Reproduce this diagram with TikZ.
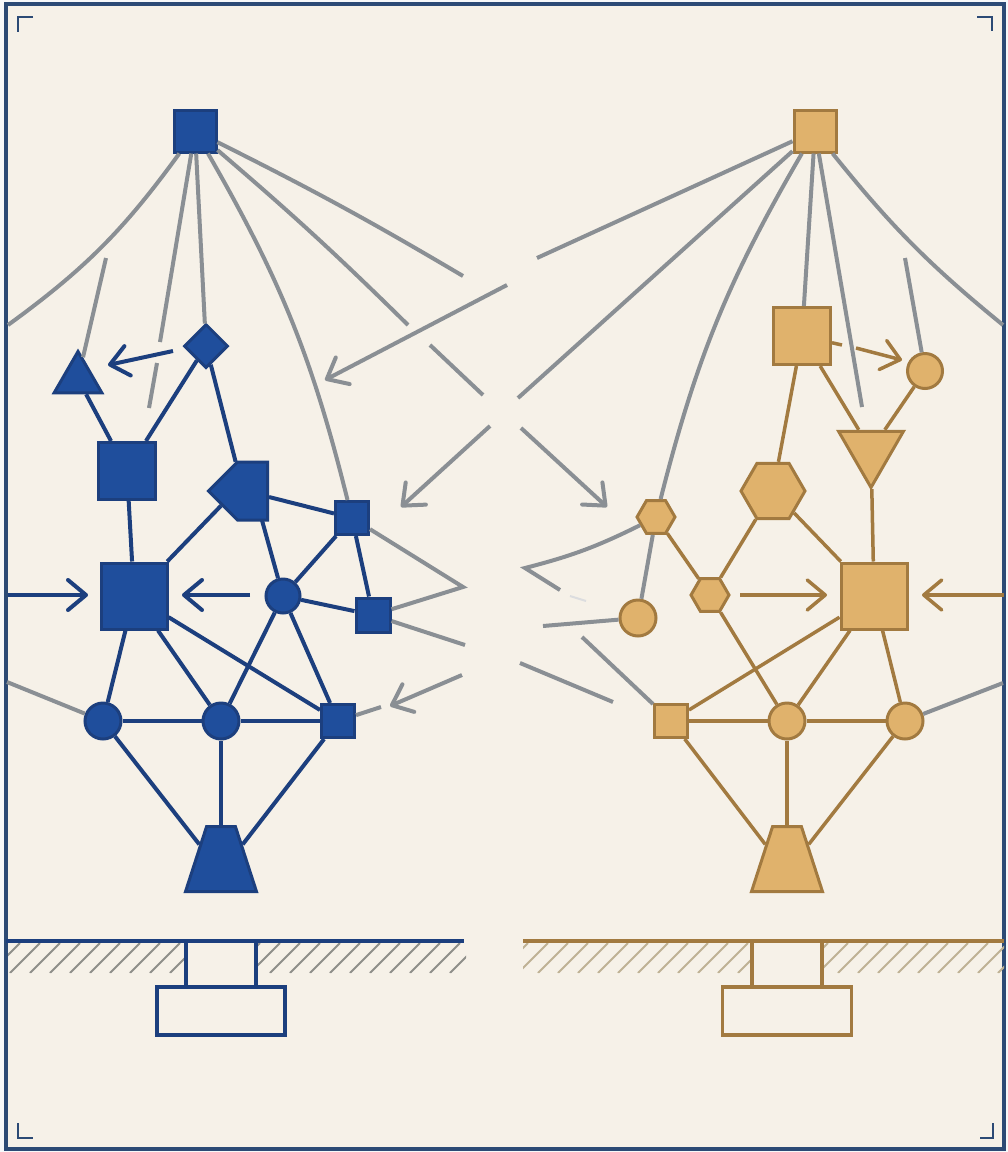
\documentclass[tikz,border=0pt]{standalone}
\usepackage{tikz}
\usetikzlibrary{arrows.meta,shapes.geometric,shapes.symbols}
\definecolor{paper}{HTML}{F6F1E8}
\definecolor{framec}{HTML}{2C4A75}
\definecolor{bluefill}{HTML}{1F4E9C}
\definecolor{bluedraw}{HTML}{1C3F7E}
\definecolor{tanfill}{HTML}{E0B26C}
\definecolor{tandraw}{HTML}{A27A40}
\definecolor{wire}{HTML}{8A8F94}
\definecolor{hatchl}{HTML}{8F8F8A}
\definecolor{hatchr}{HTML}{BFB295}

\begin{document}
\begin{tikzpicture}[x=1pt,y=-1pt,>={Straight Barb[length=18pt,width=30pt,round]},
  base node/.style={inner sep=0pt,outer sep=1.5pt,line width=3pt},
  blue node/.style={base node,draw=bluedraw,fill=bluefill},
  tan node/.style={base node,draw=tandraw,fill=tanfill},
  box/.style={rectangle,minimum size=#1},
  dot/.style={circle,minimum size=#1},
  hex/.style={regular polygon,regular polygon sides=6,minimum size=#1},
  tri/.style={regular polygon,regular polygon sides=3,minimum size=#1},
  foot/.style={trapezium,trapezium stretches=true,trapezium left angle=62,
    trapezium right angle=62,minimum width=71pt,minimum height=65pt},
  blue edge/.style={draw=bluedraw,line width=4pt},
  tan edge/.style={draw=tandraw,line width=3.5pt},
  gray edge/.style={draw=wire,line width=4pt},
  pile/.style={base node,rectangle,fill=paper,draw=#1,line width=3.5pt},
  mark line/.style={draw=framec,line width=2.5pt}]

  \useasboundingbox (0,0) rectangle (1008,1152);
  \fill[white!96!framec] (0,0) rectangle (1008,1152);
  \draw[fill=paper,draw=framec,line width=3.5pt] (6,4) rectangle (1004,1149);

  % corner marks
  \draw[mark line] (33,17) -- (18,17) -- (18,32);
  \draw[mark line] (977,17) -- (992,17) -- (992,31);
  \draw[mark line] (18,1123) -- (18,1138) -- (33,1138);
  \draw[mark line] (993,1123) -- (993,1138) -- (980,1138);

  % blue structure
  \node[blue node,box=42pt] (top1) at (195,131) {};
  \node[blue node,tri=55pt] (tri1) at (78,379) {};
  \node[blue node,diamond,minimum size=44pt] (dia1) at (206,346) {};
  \node[blue node,box=57pt] (sq1) at (127,471) {};
  \node[blue node,signal,signal to=west,signal pointer angle=90,
    minimum width=59pt,minimum height=58pt] (pent1) at (252.5,491) {};
  \node[blue node,box=33pt] (sq2) at (352,518) {};
  \node[blue node,box=66pt] (big1) at (134,596) {};
  \node[blue node,dot=34pt] (hub1) at (283,596) {};
  \node[blue node,box=34pt] (sq3) at (373,615) {};
  \node[blue node,dot=36pt] (low1) at (103,721) {};
  \node[blue node,dot=36pt] (low2) at (221,721) {};
  \node[blue node,box=33pt] (low3) at (338,721) {};
  \node[blue node,foot] (foot1) at (221,859) {\phantom{0}};

  % tan structure
  \node[tan node,box=42pt] (top2) at (815,131) {};
  \node[tan node,box=57pt] (sq4) at (802,336) {};
  \node[tan node,dot=35pt] (dot1) at (925,371) {};
  \node[tan node,tri=75pt,shape border rotate=180] (tri2) at (871,450) {};
  \node[tan node,hex=64pt] (hex1) at (773,491) {};
  \node[tan node,hex=38pt] (hex2) at (656,517) {};
  \node[tan node,dot=36pt] (dot2) at (638,618) {};
  \node[tan node,hex=38pt] (hex3) at (710,595) {};
  \node[tan node,box=66pt] (big2) at (874,596) {};
  \node[tan node,box=33pt] (low4) at (671,721) {};
  \node[tan node,dot=36pt] (low5) at (787,721) {};
  \node[tan node,dot=36pt] (low6) at (905,721) {};
  \node[tan node,foot] (foot2) at (787,859) {\phantom{0}};

  % free ends
  \coordinate (a1) at (8,325);
  \coordinate (a2) at (160,342);
  \coordinate (a3) at (157,363);
  \coordinate (a4) at (149,408);
  \coordinate (a5) at (408,325);
  \coordinate (a6) at (430,345);
  \coordinate (a7) at (483,395);
  \coordinate (a8) at (463,276);
  \coordinate (a9) at (106,258);
  \coordinate (b1) at (463,587);
  \coordinate (b2) at (465,645);
  \coordinate (b3) at (381,707);
  \coordinate (b4) at (7,682);
  \coordinate (c1) at (537,258);
  \coordinate (c2) at (518,398);
  \coordinate (c3) at (862,407);
  \coordinate (c4) at (1003,325);
  \coordinate (c5) at (905,258);
  \coordinate (d1) at (525,568);
  \coordinate (d2) at (560,590);
  \coordinate (d3) at (570,596);
  \coordinate (d4) at (586,601);
  \coordinate (d5) at (543,626);
  \coordinate (d6) at (582,637);
  \coordinate (d7) at (520,663);
  \coordinate (d8) at (613,702);
  \coordinate (d9) at (1003,683);
  % arrow ends
  \coordinate (e1) at (507,285);
  \coordinate (e2) at (325,380);
  \coordinate (e3) at (490,426);
  \coordinate (e4) at (401,507);
  \coordinate (e5) at (521,428);
  \coordinate (e6) at (607,507);
  \coordinate (e7) at (462,675);
  \coordinate (e8) at (390,706);
  \coordinate (f1) at (8,595);
  \coordinate (f2) at (88,595);
  \coordinate (f3) at (250,595);
  \coordinate (f4) at (182,595);
  \coordinate (f5) at (173,351);
  \coordinate (f6) at (108,365);
  \coordinate (g1) at (740,595);
  \coordinate (g2) at (827,595);
  \coordinate (g3) at (1004,595);
  \coordinate (g4) at (922,595);
  \coordinate (g5) at (842,345);
  \coordinate (g6) at (856,348);
  \coordinate (g7) at (902,360);

  \path[gray edge]
  (top1) edge[bend left=9] (a1)
  (top1) edge (a2)
  (a3) edge (a4)
  (top1) edge (dia1)
  (top1) edge[bend left=8] (sq2)
  (top1) edge[bend left=2] (a5)
  (a6) edge (a7)
  (top1) edge[bend left=2] (a8)
  (a9) edge (tri1)
  (sq3) edge (b2)
  (low3) edge (b3)
  (b4) edge (low1)
  (top2) edge (c1)
  (top2) edge (c2)
  (top2) edge[bend right=8] (hex2)
  (top2) edge (sq4)
  (top2) edge (c3)
  (top2) edge[bend right=6] (c4)
  (c5) edge (dot1)
  (hex2) edge (dot2)
  (dot2) edge (d5)
  (low4) edge (d6)
  (d7) edge (d8)
  (low6) edge (d9)
  (e1) edge[->] (e2)
  (e3) edge[->] (e4)
  (e5) edge[->] (e6)
  (e7) edge[->] (e8);
  \draw[gray edge] (sq2) -- (b1) -- (sq3);
  \draw[gray edge] (hex2) to[bend left=6] (d1) -- (d2);
  \draw[draw=wire!30,line width=2pt] (d3) -- (d4);

  \path[blue edge]
  (tri1) edge (sq1)
  (sq1) edge (dia1)
  (dia1) edge (pent1.120)
  (sq1) edge (big1)
  (big1) edge (pent1.205)
  (pent1.-20) edge (sq2)
  (pent1.-72) edge (hub1)
  (sq2) edge (hub1)
  (sq2) edge (sq3)
  (hub1) edge (sq3)
  (hub1) edge (low2)
  (hub1) edge (low3)
  (big1) edge (low1)
  (big1) edge (low2)
  (big1) edge (low3)
  (low1) edge (low2)
  (low2) edge (low3)
  (low1) edge (foot1.146)
  (low2) edge (foot1)
  (low3) edge (foot1.34)
  (f1) edge[->] (f2)
  (f3) edge[->] (f4)
  (f5) edge[->] (f6);

  \path[tan edge]
  (sq4) edge (hex1)
  (sq4) edge (tri2)
  (dot1) edge (tri2)
  (tri2) edge (big2)
  (hex1) edge (big2)
  (hex1) edge (hex3)
  (hex2) edge (hex3)
  (hex3) edge (low5)
  (big2) edge (low4)
  (big2) edge (low5)
  (big2) edge (low6)
  (low4) edge (low5)
  (low5) edge (low6)
  (low4) edge (foot2.146)
  (low5) edge (foot2)
  (low6) edge (foot2.34)
  (g1) edge[->] (g2)
  (g3) edge[->] (g4)
  (g6) edge[->] (g7)
  (sq4) edge (g5);

  % ground
  \begin{scope}
    \clip (8,943) rectangle (186,973) (256,943) rectangle (466,973);
    \foreach \hx in {-10,10,...,450}
      \draw[hatchl,line width=1.8pt] (\hx,973) -- ++(30,-30);
  \end{scope}
  \begin{scope}
    \clip (523,943) rectangle (752,973) (822,943) rectangle (1004,973);
    \foreach \hx in {498,518,...,998}
      \draw[hatchr,line width=1.8pt] (\hx,973) -- ++(30,-30);
  \end{scope}
  \coordinate (h1) at (6,941);
  \coordinate (h2) at (464,941);
  \coordinate (h3) at (523,941);
  \coordinate (h4) at (1004,941);
  \draw[draw=bluedraw,line width=3.5pt] (h1) -- (h2);
  \draw[draw=tandraw,line width=3.5pt] (h3) -- (h4);

  \node[pile=bluedraw,minimum width=70pt,minimum height=46pt] (post1) at (221,964) {};
  \node[pile=bluedraw,minimum width=128pt,minimum height=48pt] (base1) at (221,1011) {};
  \node[pile=tandraw,minimum width=70pt,minimum height=46pt] (post2) at (787,964) {};
  \node[pile=tandraw,minimum width=129pt,minimum height=48pt] (base2) at (787,1011) {};
\end{tikzpicture}
\end{document}
